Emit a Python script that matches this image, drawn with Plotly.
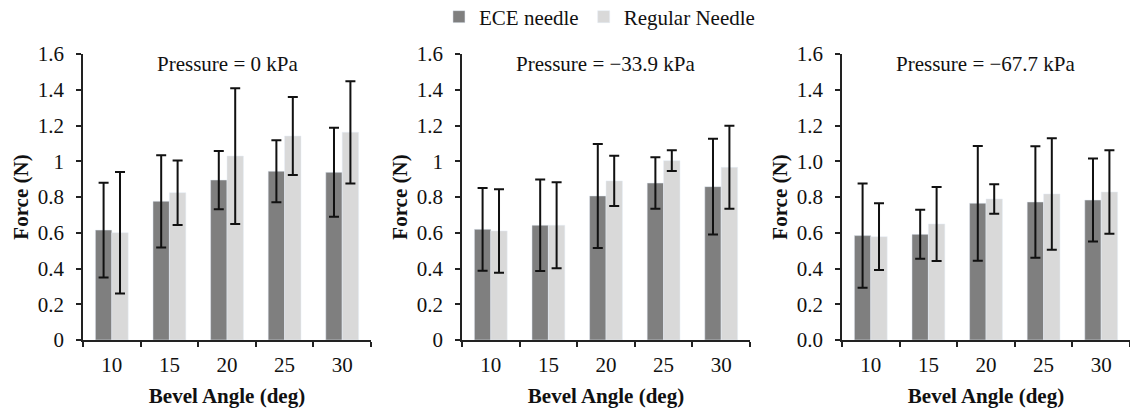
import plotly.graph_objects as go

angles = ["10", "15", "20", "25", "30"]
panel_titles = ["Pressure = 0 kPa", "Pressure = \u221233.9 kPa", "Pressure = \u221267.7 kPa"]

ece_0 = [0.615, 0.776, 0.895, 0.944, 0.938]
ece_0_err = [0.265, 0.258, 0.163, 0.174, 0.249]
reg_0 = [0.600, 0.824, 1.029, 1.141, 1.162]
reg_0_err = [0.340, 0.180, 0.380, 0.218, 0.286]

ece_34 = [0.619, 0.642, 0.806, 0.878, 0.858]
ece_34_err = [0.232, 0.256, 0.291, 0.144, 0.268]
reg_34 = [0.610, 0.642, 0.890, 1.003, 0.966]
reg_34_err = [0.234, 0.240, 0.141, 0.058, 0.232]

ece_68 = [0.584, 0.591, 0.765, 0.772, 0.783]
ece_68_err = [0.292, 0.137, 0.321, 0.312, 0.232]
reg_68 = [0.578, 0.649, 0.789, 0.817, 0.828]
reg_68_err = [0.187, 0.207, 0.083, 0.312, 0.233]

ece_sets = [(ece_0, ece_0_err), (ece_34, ece_34_err), (ece_68, ece_68_err)]
reg_sets = [(reg_0, reg_0_err), (reg_34, reg_34_err), (reg_68, reg_68_err)]

ECE_COLOR = "#7f7f7f"
REG_COLOR = "#d9d9d9"
FONT = "Liberation Serif, Times New Roman, DejaVu Serif, serif"
W, H = 1130, 412

fig = go.Figure()

x_domains = [[83 / W, 371 / W], [462 / W, 750 / W], [842 / W, 1.0]]
y_domain = [(H - 340) / H, (H - 54) / H]

for i in range(3):
    xa = "x" if i == 0 else f"x{i+1}"
    ya = "y" if i == 0 else f"y{i+1}"
    (ev, ee), (rv, re) = ece_sets[i], reg_sets[i]
    fig.add_trace(go.Bar(
        x=angles, y=ev, name="ECE needle", marker_color=ECE_COLOR,
        error_y=dict(type="data", array=ee, visible=True, color="#111",
                     thickness=2, width=5),
        xaxis=xa, yaxis=ya, showlegend=(i == 0), legendgroup="ece",
    ))
    fig.add_trace(go.Bar(
        x=angles, y=rv, name="Regular Needle", marker_color=REG_COLOR,
        error_y=dict(type="data", array=re, visible=True, color="#111",
                     thickness=2, width=5),
        xaxis=xa, yaxis=ya, showlegend=(i == 0), legendgroup="reg",
    ))

axis_common_x = dict(
    showline=True, linecolor="#222", linewidth=1.5, ticks="outside",
    tickson="boundaries", ticklen=5, tickcolor="#222", tickwidth=1.5,
    showgrid=False, zeroline=False, ticklabelstandoff=5, automargin=False,
    tickfont=dict(family=FONT, size=21, color="#111"),
    title=dict(text="<b>Bevel Angle (deg)</b>", standoff=12,
               font=dict(family=FONT, size=21, color="#111")),
)
axis_common_y = dict(
    showline=True, linecolor="#222", linewidth=1.5, ticks="outside",
    ticklen=5, tickcolor="#222", tickwidth=1.5, range=[0, 1.6], dtick=0.2,
    tick0=0, showgrid=False, zeroline=False, ticklabelstandoff=8,
    automargin=False,
    tickfont=dict(family=FONT, size=21, color="#111"),
    title=dict(text="<b>Force (N)</b>", standoff=3,
               font=dict(family=FONT, size=21, color="#111")),
)

layout = dict(
    width=W, height=H, margin=dict(l=0, r=0, t=0, b=0, autoexpand=False),
    plot_bgcolor="white", paper_bgcolor="white",
    barmode="group", bargap=0.43, bargroupgap=0.0,
    font=dict(family=FONT, size=21, color="#111"),
    legend=dict(orientation="h", x=0.5305, xanchor="center", y=1 - 17 / H,
                yanchor="middle", font=dict(family=FONT, size=21, color="#111"),
                itemwidth=30, tracegroupgap=0),
)
for i in range(3):
    xk = "xaxis" if i == 0 else f"xaxis{i+1}"
    yk = "yaxis" if i == 0 else f"yaxis{i+1}"
    xa = "x" if i == 0 else f"x{i+1}"
    ya = "y" if i == 0 else f"y{i+1}"
    layout[xk] = dict(axis_common_x, domain=x_domains[i], anchor=ya)
    yd = dict(axis_common_y, domain=y_domain, anchor=xa)
    if i == 2:
        yd["tickformat"] = ".1f"
    layout[yk] = yd

fig.update_layout(**layout)

for i in range(3):
    xa = "x" if i == 0 else f"x{i+1}"
    fig.add_annotation(
        text=panel_titles[i], xref=f"{xa} domain", x=0.5, xanchor="center",
        yref="paper", y=(H - 64) / H, yanchor="middle", showarrow=False,
        font=dict(family=FONT, size=21, color="#111"),
    )

fig.write_html("out.html")
